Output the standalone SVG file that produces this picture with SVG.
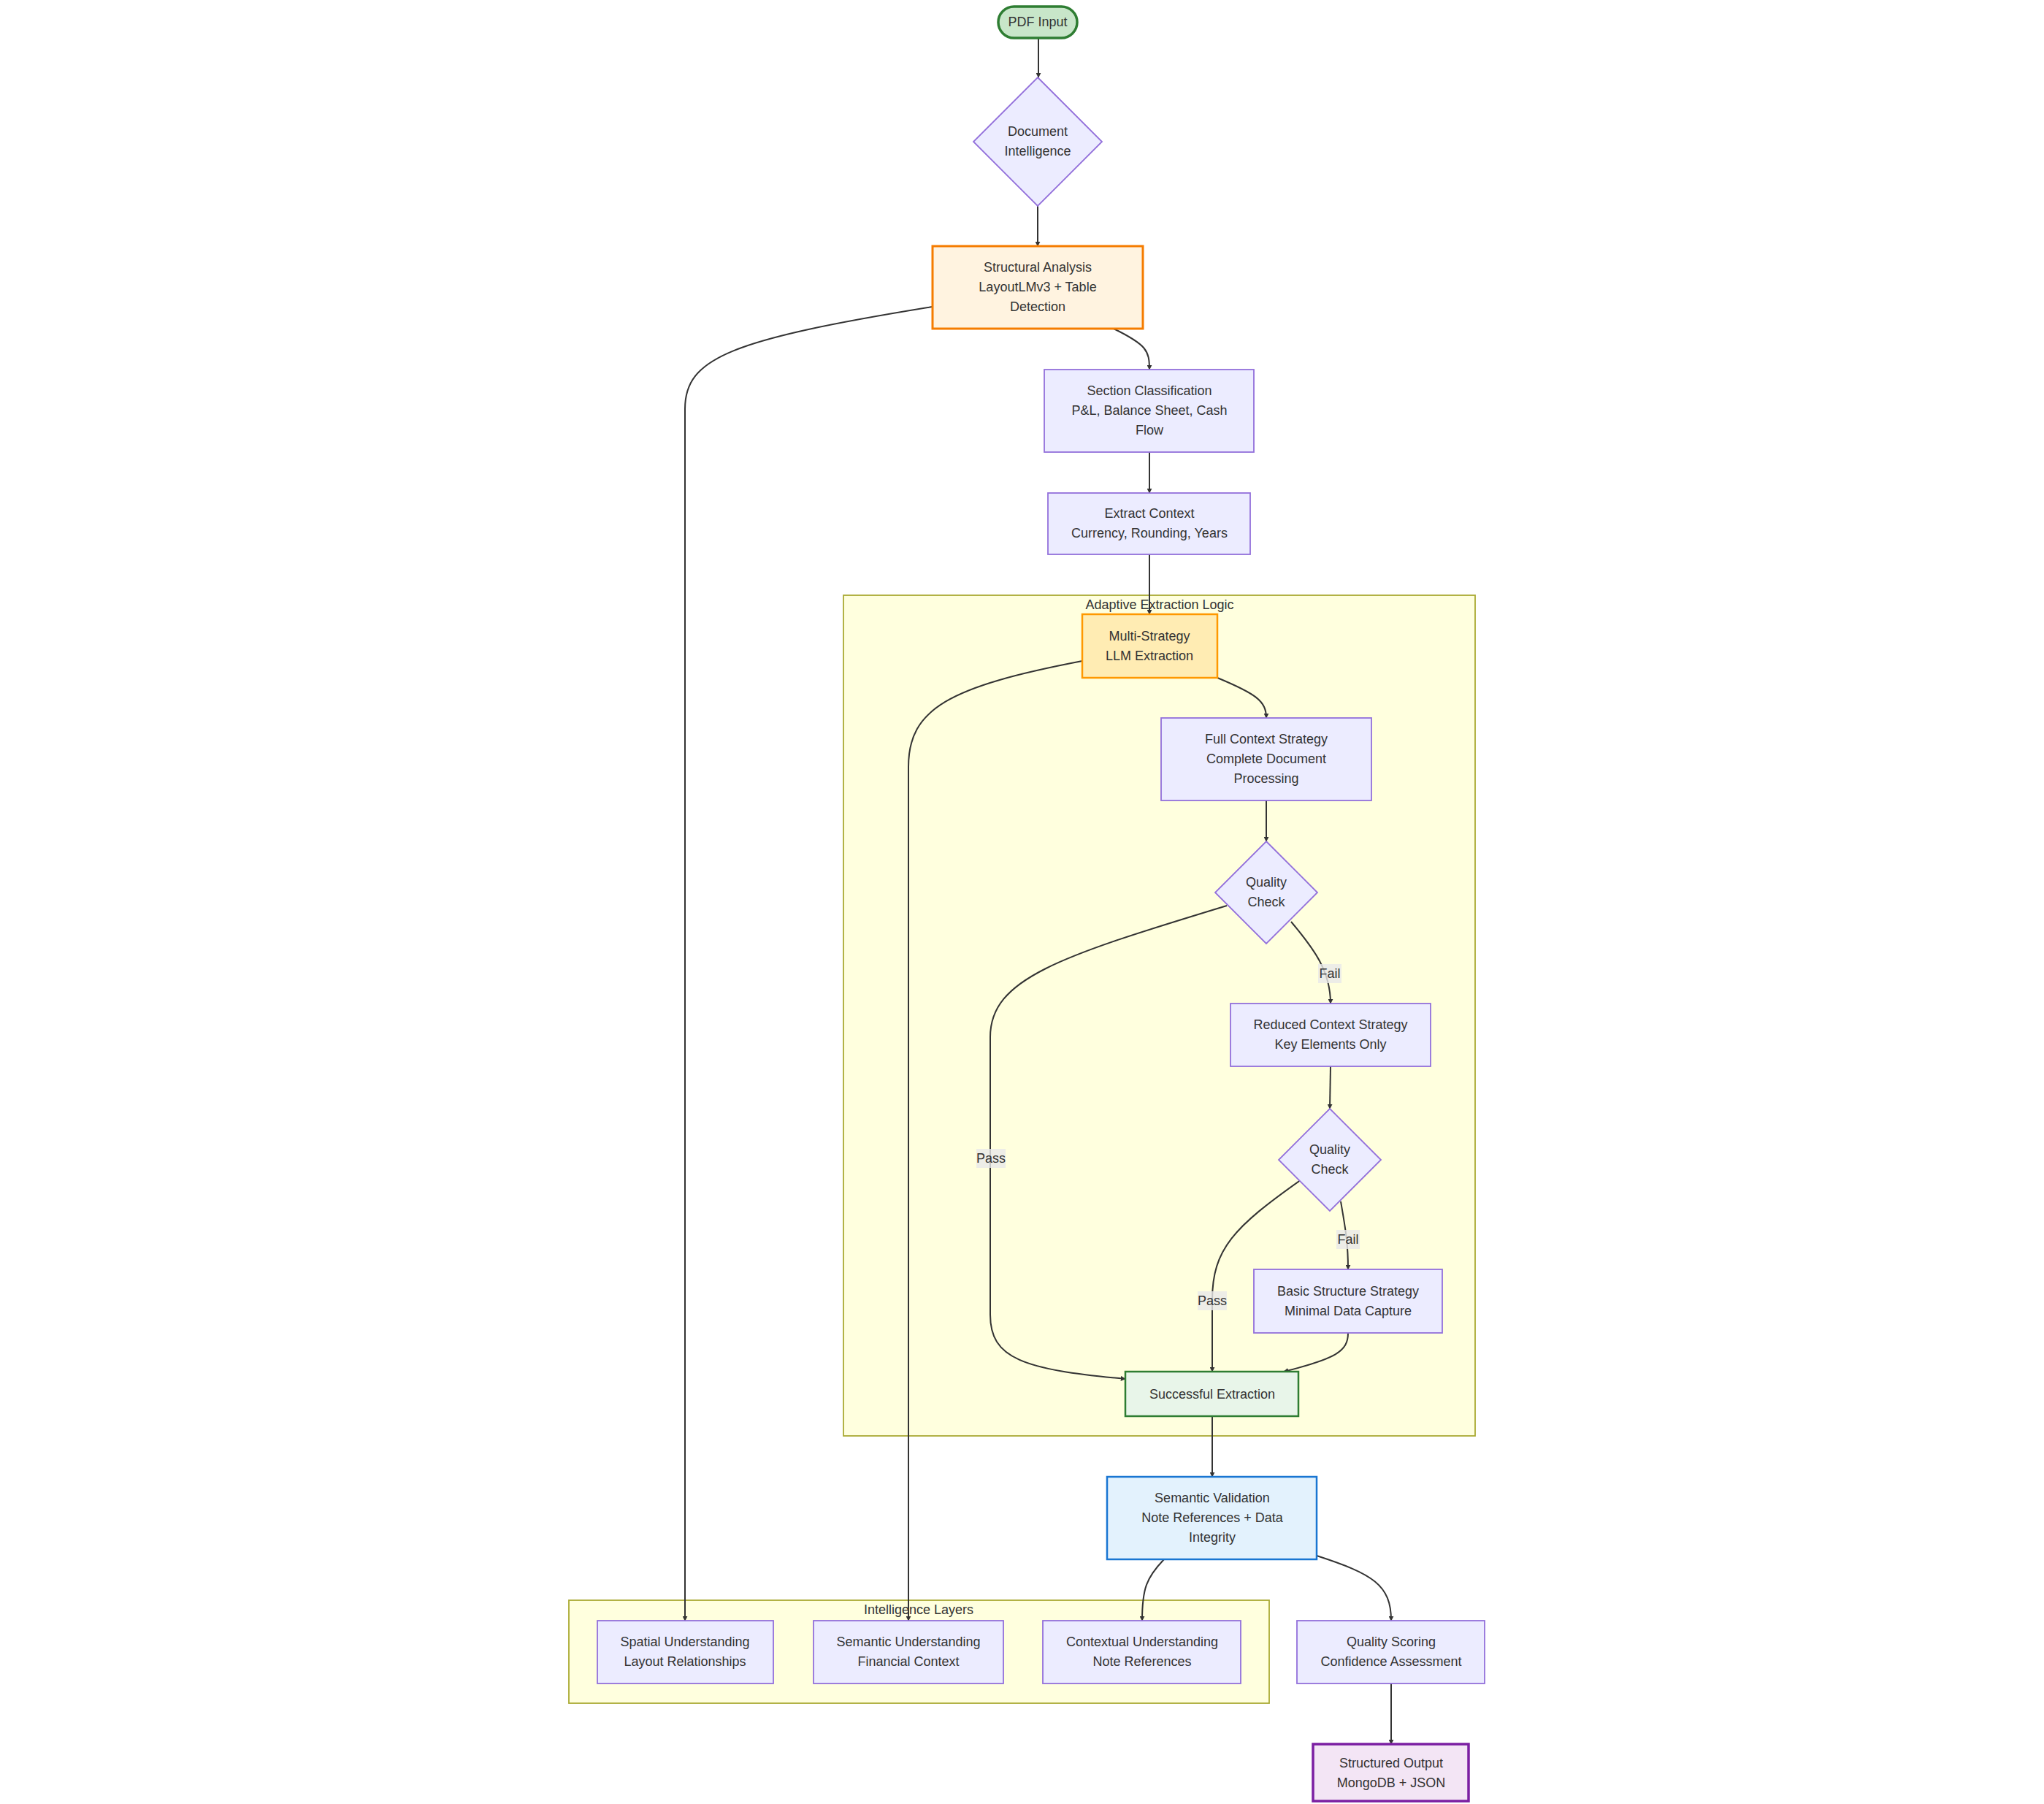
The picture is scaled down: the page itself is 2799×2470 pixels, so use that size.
<svg xmlns="http://www.w3.org/2000/svg" width="2799" height="2470" viewBox="0 0 2799 2470">
<defs>
<marker id="ar" viewBox="0 0 10 10" refX="9" refY="5" markerWidth="7" markerHeight="7" orient="auto-start-reverse" markerUnits="userSpaceOnUse"><path d="M0,0 L10,5 L0,10 z" fill="#333"/></marker>
<style>
text{font-family:"Liberation Sans",Arial,sans-serif;font-size:18px;fill:#333;text-anchor:middle;dominant-baseline:central}
.n{fill:#ECECFF;stroke:#9370DB;stroke-width:1.8}
.e{fill:none;stroke:#333;stroke-width:2;marker-end:url(#ar)}
.cl{fill:#ffffde;stroke:#aaaa33;stroke-width:1.8}
.lb{fill:#e8e8e8;fill-opacity:0.8}
</style>
</defs>
<rect width="2799" height="2470" fill="#fff"/>
<g id="clusters">
<rect class="cl" x="1155" y="815" width="865" height="1151"/>
<text x="1588" y="828">Adaptive Extraction Logic</text>
<rect class="cl" x="779" y="2191" width="959" height="141"/>
<text x="1258" y="2204">Intelligence Layers</text>
</g>
<g id="connectors">
<path class="e" d="M1422,52 L1422,106"/>
<path class="e" d="M1421,282 L1421,337"/>
<path class="e" d="M1525,450 C1570,472 1574,480 1574,506"/>
<path class="e" d="M1277,420 C1000,465 938,490 938,560 L938,2219"/>
<path class="e" d="M1574,619 L1574,675"/>
<path class="e" d="M1574,759 L1574,841"/>
<path class="e" d="M1667,928 C1720,950 1734,960 1734,983"/>
<path class="e" d="M1482,905 C1300,940 1244,970 1244,1050 L1244,2219"/>
<path class="e" d="M1734,1096 L1734,1152"/>
<path class="e" d="M1768,1262 C1800,1300 1822,1330 1822,1374"/>
<path class="e" d="M1680,1240 C1450,1310 1356,1340 1356,1420 L1356,1800 C1356,1860 1400,1875 1541,1888"/>
<path class="e" d="M1822,1460 L1821,1518"/>
<path class="e" d="M1836,1645 C1842,1680 1846,1700 1846,1738"/>
<path class="e" d="M1782,1615 C1690,1680 1660,1710 1660,1780 L1660,1878"/>
<path class="e" d="M1846,1825 C1846,1850 1830,1860 1758,1878"/>
<path class="e" d="M1660,1939 L1660,2022"/>
<path class="e" d="M1594,2135 C1570,2160 1564,2175 1564,2219"/>
<path class="e" d="M1803,2130 C1880,2155 1905,2170 1905,2219"/>
<path class="e" d="M1905,2305 L1905,2388"/>
<rect class="lb" x="1805" y="1320" width="32" height="26"/><text x="1821" y="1333">Fail</text>
<rect class="lb" x="1830" y="1684" width="32" height="26"/><text x="1846" y="1697">Fail</text>
<rect class="lb" x="1337" y="1573" width="40" height="26"/><text x="1357" y="1586">Pass</text>
<rect class="lb" x="1640" y="1768" width="40" height="26"/><text x="1660" y="1781">Pass</text>
</g>
<g id="pdf"><rect x="1367" y="9" width="108" height="43" rx="21.5" fill="#c8e6c9" stroke="#2e7d32" stroke-width="3.5"/><text x="1421" y="30">PDF Input</text></g>
<g id="docint"><polygon class="n" points="1421,106 1509,194 1421,282 1333,194"/><text x="1421" y="180">Document</text><text x="1421" y="207">Intelligence</text></g>
<g id="struct"><rect x="1277" y="337" width="288" height="113" fill="#fff3e0" stroke="#f57c00" stroke-width="3"/><text x="1421" y="366">Structural Analysis</text><text x="1421" y="393">LayoutLMv3 + Table</text><text x="1421" y="420">Detection</text></g>
<g id="section"><rect class="n" x="1430" y="506" width="287" height="113"/><text x="1574" y="535">Section Classification</text><text x="1574" y="562">P&amp;L, Balance Sheet, Cash</text><text x="1574" y="589">Flow</text></g>
<g id="context"><rect class="n" x="1435" y="675" width="277" height="84"/><text x="1574" y="703">Extract Context</text><text x="1574" y="730">Currency, Rounding, Years</text></g>
<g id="multi"><rect x="1482" y="841" width="185" height="87" fill="#ffecb3" stroke="#ff9800" stroke-width="2.5"/><text x="1574" y="871">Multi-Strategy</text><text x="1574" y="898">LLM Extraction</text></g>
<g id="full"><rect class="n" x="1590" y="983" width="288" height="113"/><text x="1734" y="1012">Full Context Strategy</text><text x="1734" y="1039">Complete Document</text><text x="1734" y="1066">Processing</text></g>
<g id="qc1"><polygon class="n" points="1734,1152 1804,1222 1734,1292 1664,1222"/><text x="1734" y="1208">Quality</text><text x="1734" y="1235">Check</text></g>
<g id="reduced"><rect class="n" x="1685" y="1374" width="274" height="86"/><text x="1822" y="1403">Reduced Context Strategy</text><text x="1822" y="1430">Key Elements Only</text></g>
<g id="qc2"><polygon class="n" points="1821,1518 1891,1588 1821,1658 1751,1588"/><text x="1821" y="1574">Quality</text><text x="1821" y="1601">Check</text></g>
<g id="basic"><rect class="n" x="1717" y="1738" width="258" height="87"/><text x="1846" y="1768">Basic Structure Strategy</text><text x="1846" y="1795">Minimal Data Capture</text></g>
<g id="success"><rect x="1541" y="1878" width="237" height="61" fill="#e8f5e9" stroke="#2e7d32" stroke-width="2.5"/><text x="1660" y="1909">Successful Extraction</text></g>
<g id="semval"><rect x="1516" y="2022" width="287" height="113" fill="#e3f2fd" stroke="#1976d2" stroke-width="2.5"/><text x="1660" y="2051">Semantic Validation</text><text x="1660" y="2078">Note References + Data</text><text x="1660" y="2105">Integrity</text></g>
<g id="spatial"><rect class="n" x="818" y="2219" width="241" height="86"/><text x="938" y="2248">Spatial Understanding</text><text x="938" y="2275">Layout Relationships</text></g>
<g id="semund"><rect class="n" x="1114" y="2219" width="260" height="86"/><text x="1244" y="2248">Semantic Understanding</text><text x="1244" y="2275">Financial Context</text></g>
<g id="contextual"><rect class="n" x="1428" y="2219" width="271" height="86"/><text x="1564" y="2248">Contextual Understanding</text><text x="1564" y="2275">Note References</text></g>
<g id="quality"><rect class="n" x="1776" y="2219" width="257" height="86"/><text x="1905" y="2248">Quality Scoring</text><text x="1905" y="2275">Confidence Assessment</text></g>
<g id="output"><rect x="1798" y="2388" width="213" height="78" fill="#f3e5f5" stroke="#7b1fa2" stroke-width="3.5"/><text x="1905" y="2414">Structured Output</text><text x="1905" y="2441">MongoDB + JSON</text></g>
</svg>
